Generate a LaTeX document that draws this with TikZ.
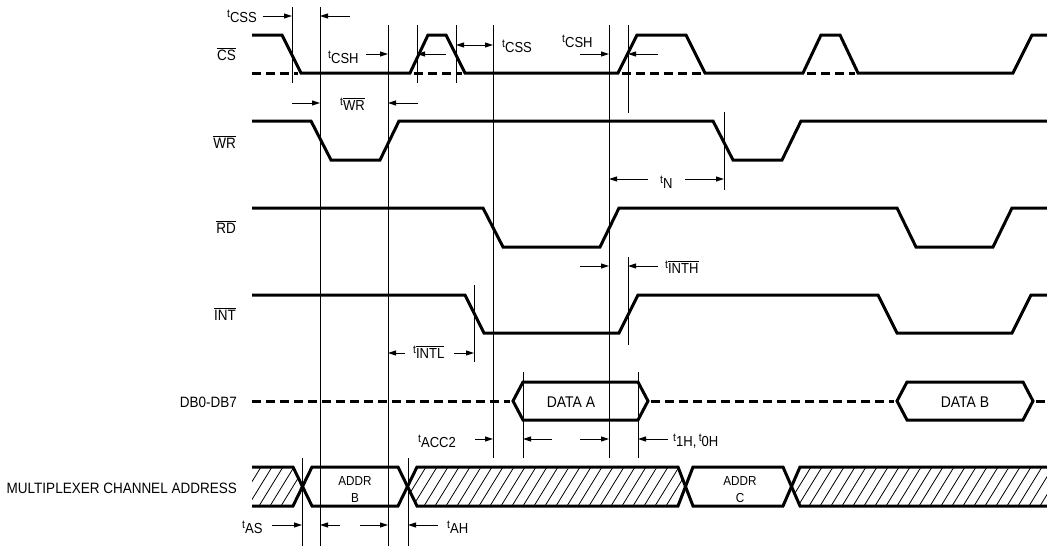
\documentclass[tikz,border=0pt]{standalone}
\usepackage{fontspec}
\setmainfont{Liberation Sans}[FakeStretch=0.9]
\usetikzlibrary{arrows.meta}
\newcommand{\ovl}[1]{$\overline{\mbox{#1}}$}
\newcommand{\tpre}{\raisebox{0.62ex}{\fontsize{11.5}{11}\selectfont t}}
\begin{document}
\begin{tikzpicture}[x={(1pt,0pt)},y={(0pt,-1pt)},
  sig/.style={line width=3pt,line join=miter,line cap=butt},
  dsig/.style={line width=3pt,dash pattern=on 9pt off 5pt},
  vline/.style={line width=1pt},
  arr/.style={line width=1pt,-{Triangle[length=8pt,width=5pt]}},
  dbl/.style={line width=1pt,{Triangle[length=8pt,width=5pt]}-{Triangle[length=8pt,width=5pt]}},
  siglbl/.style={font=\fontsize{15}{17}\selectfont,inner sep=0pt,anchor=base east},
  tlbl/.style={font=\fontsize{14.5}{16}\selectfont,inner sep=0pt,anchor=base west},
  boxlbl/.style={font=\fontsize{15.5}{17}\selectfont,inner sep=0pt,anchor=base},
  addrlbl/.style={font=\fontsize{13}{15}\selectfont,inner sep=0pt,anchor=base},
  hatchline/.style={line width=0.8pt}
]
\useasboundingbox (0,0) rectangle (1047,546);

% ---- vertical reference lines
\foreach \n/\x/\ya/\yb in {v1/292/7/83, v2/320/7/546, v3/388/25/546, v4/417/25/83,
  v5/456/25/83, v6/493/25/458, v7/609/25/458, v8/628/25/113, v8b/628/257/345,
  v9/724/112/190, v10/474/285/362, v11/523/372/458, v12/638/372/458,
  v13/302/458/546, v14/408/458/546}{
  \coordinate (\n t) at (\x,\ya);
  \coordinate (\n b) at (\x,\yb);
  \draw[vline] (\n t) -- (\n b);
}

% ---- signal names
\node[siglbl] (cs) at (236,60) {\ovl{CS}};
\node[siglbl] (wr) at (236,148) {\ovl{WR}};
\node[siglbl] (rd) at (236,233) {\ovl{RD}};
\node[siglbl] (int) at (236,320) {\ovl{INT}};
\node[siglbl] (db) at (237,407) {DB0-DB7};
\node[siglbl] (mux) at (237,493) {MULTIPLEXER CHANNEL ADDRESS};

% ---- CS
\draw[sig] (252,35)--(282,35)--(301,73)--(410,73)--(428,35)--(446,35)--(465,73)--(618,73)--(637,35)--(686,35)--(705,73)--(803,73)--(821,35)--(840,35)--(858,73)--(1013,73)--(1032,35)--(1047,35);
\draw[dsig] (252,73)--(298,73);
\draw[dsig] (414,73)--(462,73);
\draw[dsig] (622,73)--(702,73);
\draw[dsig] (807,73)--(855,73);

% ---- WR
\draw[sig] (252,121)--(311,121)--(331,160)--(380,160)--(399,121)--(713,121)--(733,160)--(782,160)--(801,121)--(1047,121);
% ---- RD
\draw[sig] (252,208)--(483,208)--(503,247)--(600,247)--(619,208)--(897,208)--(916,247)--(993,247)--(1012,208)--(1047,208);
% ---- INT
\draw[sig] (252,295)--(465,295)--(484,333)--(619,333)--(638,295)--(878,295)--(897,333)--(1012,333)--(1031,295)--(1047,295);

% ---- data bus
\draw[dsig] (252,401)--(510,401);
\draw[dsig] (651,401)--(894,401);
\draw[dsig] (1036,401)--(1047,401);
\draw[sig] (513,401)--(523,382)--(638,382)--(648,401)--(638,420)--(523,420)--cycle;
\draw[sig] (897,401)--(907,382)--(1023,382)--(1033,401)--(1023,420)--(907,420)--cycle;
\node[boxlbl] (dataa) at (571,407) {DATA A};
\node[boxlbl] (datab) at (965,407) {DATA B};

% ---- address bus hatching
\begin{scope}
  \clip (252,467)--(293,467)--(302.5,486.5)--(293,506)--(252,506)--cycle;
  \foreach \x in {226,237,...,310} \draw[hatchline] (\x,506)--(\x+24,467);
\end{scope}
\begin{scope}
  \clip (407.5,486.5)--(417,467)--(678,467)--(685.5,486.5)--(678,506)--(417,506)--cycle;
  \foreach \x in {380,391,...,690} \draw[hatchline] (\x,506)--(\x+24,467);
\end{scope}
\begin{scope}
  \clip (791.5,486.5)--(800,467)--(1047,467)--(1047,506)--(800,506)--cycle;
  \foreach \x in {765,776,...,1050} \draw[hatchline] (\x,506)--(\x+24,467);
\end{scope}
\draw[sig] (252,467)--(293,467)--(312,506)--(398,506)--(417,467)--(678,467)--(693,506)--(783,506)--(800,467)--(1047,467);
\draw[sig] (252,506)--(293,506)--(312,467)--(398,467)--(417,506)--(678,506)--(693,467)--(783,467)--(800,506)--(1047,506);
\node[addrlbl] (addrb1) at (355,485) {ADDR};
\node[addrlbl] (addrb2) at (355,502) {B};
\node[addrlbl] (addrc1) at (740,485) {ADDR};
\node[addrlbl] (addrc2) at (740,502) {C};

% ---- timing labels
\node[tlbl] (tcss1) at (227,22) {\tpre CSS};
\node[tlbl] (tcsh1) at (328,63) {\tpre CSH};
\node[tlbl] (twr) at (340,110) {\tpre\ovl{WR}};
\node[tlbl] (tcss2) at (502,52) {\tpre CSS};
\node[tlbl] (tcsh2) at (562,47) {\tpre CSH};
\node[tlbl] (tn) at (660,188) {\tpre N};
\node[tlbl] (tinth) at (665,273) {\tpre\ovl{INTH}};
\node[tlbl] (tintl) at (413,358) {\tpre\ovl{INTL}};
\node[tlbl] (tacc) at (418,447) {\tpre ACC2};
\node[tlbl] (toh) at (673,446) {\tpre 1H,\,\tpre 0H};
\node[tlbl] (tas) at (242,533) {\tpre AS};
\node[tlbl] (tah) at (447,533) {\tpre AH};

% ---- timing arrows
\draw[arr] (263,16) -- (292,16);
\draw[arr] (350,16) -- (320,16);
\draw[arr] (366,54) -- (388,54);
\draw[arr] (446,54) -- (417,54);
\draw[dbl] (456,45) -- (493,45);
\draw[arr] (580,54) -- (609,54);
\draw[arr] (658,54) -- (628,54);
\draw[arr] (292,103) -- (320,103);
\draw[arr] (418,103) -- (388,103);
\draw[arr] (648,179) -- (609,179);
\draw[arr] (685,179) -- (724,179);
\draw[arr] (580,266) -- (609,266);
\draw[arr] (658,266) -- (628,266);
\draw[arr] (405,353) -- (388,353);
\draw[arr] (454,353) -- (474,353);
\draw[arr] (475,439) -- (493,439);
\draw[arr] (552,439) -- (523,439);
\draw[arr] (580,439) -- (609,439);
\draw[arr] (668,439) -- (638,439);
\draw[arr] (272,525) -- (302,525);
\draw[arr] (340,525) -- (320,525);
\draw[arr] (360,525) -- (388,525);
\draw[arr] (438,525) -- (408,525);
\end{tikzpicture}
\end{document}
